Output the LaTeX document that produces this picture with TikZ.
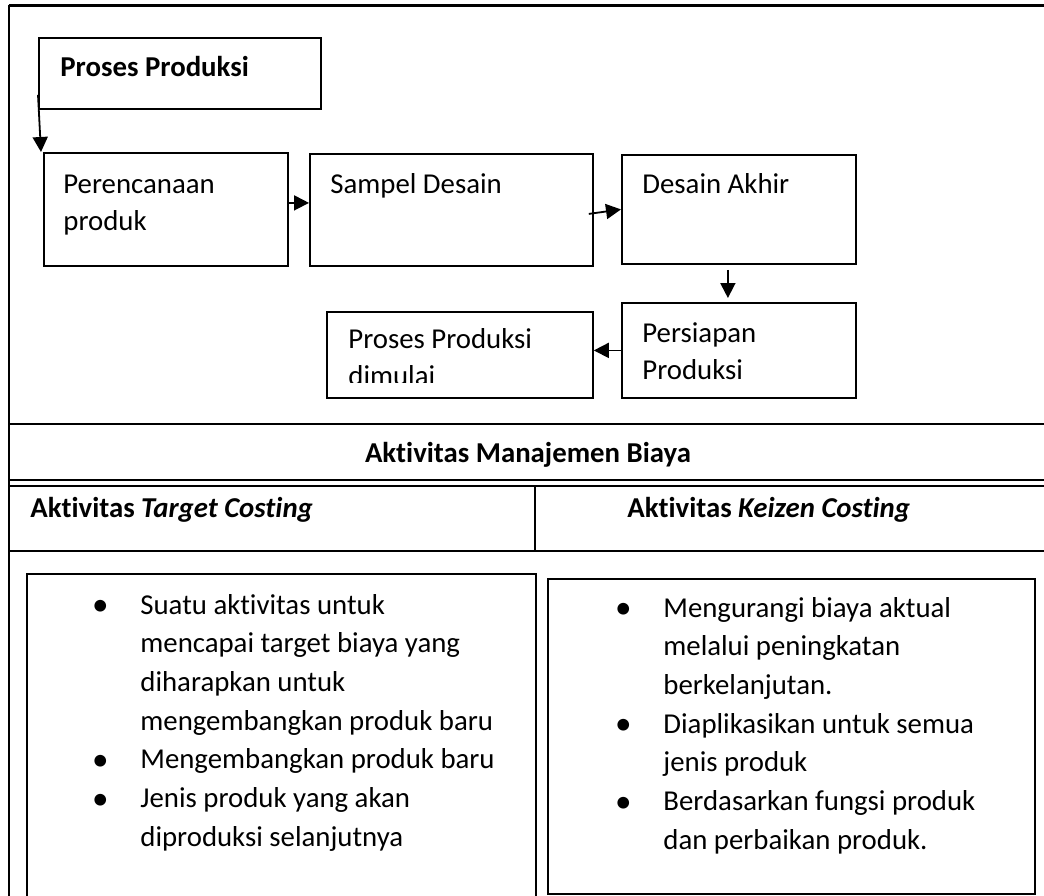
\documentclass[tikz,border=0pt]{standalone}
\usepackage{fontspec}
\setmainfont{Carlito}[Ligatures=NoCommon]
\usetikzlibrary{arrows.meta, positioning}
\newcommand{\fs}{\fontsize{14.4}{18.6}\selectfont}
\newcommand{\fl}{\fontsize{14.4}{19.35}\selectfont}
\newcommand{\bul}{\llap{\makebox[25pt][c]{\raisebox{-0.8pt}{\scalebox{1.15}{\textbullet}}}\hspace{7.5pt}}}
\tikzset{
  box/.style={draw, line width=0.9pt, inner sep=0pt, anchor=north west},
  txt/.style={anchor=base west, inner sep=0pt, font=\fs},
  head/.style={anchor=base west, inner sep=0pt, font=\fs\bfseries},
  list/.style={anchor=base west, inner sep=0pt, font=\fl},
  flow/.style={line width=0.9pt, -{Triangle[length=7.5pt, width=7.5pt]}},
  rule/.style={line width=1pt},
}

\begin{document}
\begin{tikzpicture}[x=0.5pt, y=-0.5pt]
\useasboundingbox (0,0) rectangle (1044,895);
% table
\draw[rule] (9,900) -- (9,5);
\draw[rule, line width=1.5pt] (8.5,5) -- (1050,5);
\draw[rule] (9,424) -- (1050,424);
\draw[rule] (9,480) -- (1050,480);
\draw[rule] (9,486) -- (1050,486);
\draw[rule] (9,551) -- (1050,551);
\draw[rule] (535,486) -- (535,551);
% flow boxes
\node[box, minimum width=141pt, minimum height=35.5pt] (title) at (38,37) {};
\node[box, minimum width=122pt, minimum height=56.5pt] (plan) at (43,152) {};
\node[box, minimum width=141.5pt, minimum height=56pt] (sample) at (309,153) {};
\node[box, minimum width=117pt, minimum height=54.5pt] (final) at (621,154) {};
\node[box, minimum width=117pt, minimum height=47.5pt] (prep) at (621,302) {};
\node[box, minimum width=133pt, minimum height=43pt] (start) at (326,311) {};
\node[head] (titletext) at (60,76) {Proses Produksi};
\node[txt] (plantext) at (63,193) {\begin{tabular}[t]{@{}l@{}}Perencanaan\\produk\end{tabular}};
\node[txt] (sampletext) at (330,193) {Sampel Desain};
\node[txt] (finaltext) at (642,193) {Desain Akhir};
\node[txt] (preptext) at (642,342) {\begin{tabular}[t]{@{}l@{}}Persiapan\\Produksi\end{tabular}};
\begin{scope}
\clip (326,311) rectangle (592,382);
\node[txt] (starttext) at (348,348) {\begin{tabular}[t]{@{}l@{}}Proses Produksi\\dimulai\end{tabular}};
\end{scope}
% arrows
\draw[flow] ([yshift=7.5pt]title.south west) -- ([xshift=-1pt]plan.north west);
\draw[flow] ([yshift=3.25pt]plan.east) -- ([yshift=3.25pt]plan.east -| sample.west);
\draw[flow] ([shift={(-2.5pt,-2pt)}]sample.east) -- (final.west);
\draw[flow] ([shift={(-5.5pt,-2.5pt)}]final.south) -- ([shift={(-5.5pt,2pt)}]prep.north);
\draw[flow] (prep.west) -- (prep.west -| start.east);
% headings
\node[head, anchor=base] (costhead) at (528,462) {Aktivitas Manajemen Biaya};
\node[head] (targethead) at (30,517) {Aktivitas \textit{Target Costing}};
\node[head] (keizenhead) at (627,517) {Aktivitas \textit{Keizen Costing}};
% lists
\node[box, minimum width=254.5pt, minimum height=170pt] (targetbox) at (26,573) {};
\node[box, minimum width=243.5pt, minimum height=157.5pt] (keizenbox) at (547,578) {};
\node[list] (targetlist) at (140,614) {\begin{tabular}[t]{@{}l@{}}
\bul Suatu aktivitas untuk\\
mencapai target biaya yang\\
diharapkan untuk\\
mengembangkan produk baru\\
\bul Mengembangkan produk baru\\
\bul Jenis produk yang akan\\
diproduksi selanjutnya
\end{tabular}};
\node[list] (keizenlist) at (663,617) {\begin{tabular}[t]{@{}l@{}}
\bul Mengurangi biaya aktual\\
melalui peningkatan\\
berkelanjutan.\\
\bul Diaplikasikan untuk semua\\
jenis produk\\
\bul Berdasarkan fungsi produk\\
dan perbaikan produk.
\end{tabular}};
\end{tikzpicture}
\end{document}
